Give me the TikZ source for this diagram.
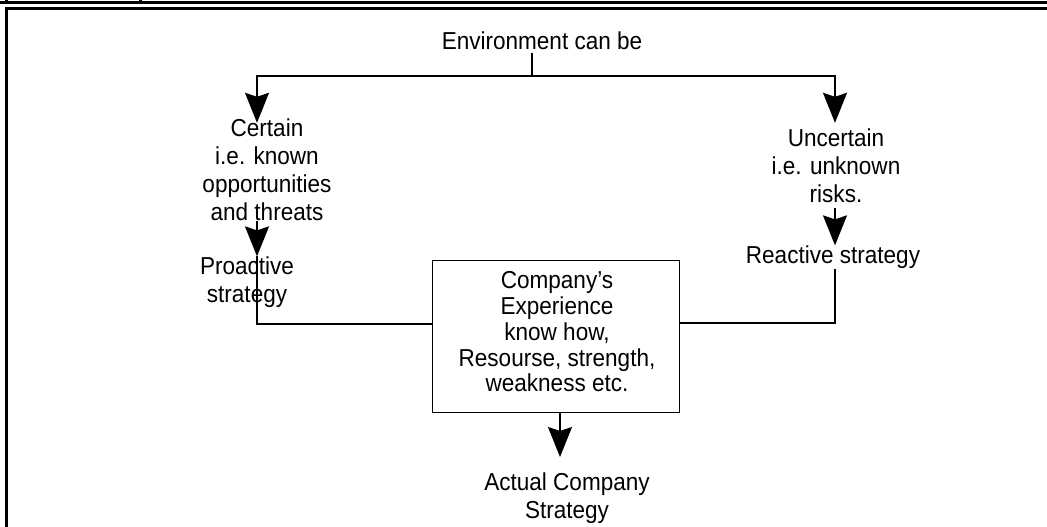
\documentclass[tikz,border=0pt]{standalone}
\usepackage{fontspec}
\setmainfont{Liberation Sans}[FakeStretch=0.92]
\usetikzlibrary{arrows.meta}
\begin{document}
\begin{tikzpicture}[x=1pt,y=-1pt,
  lbl/.style={font=\fontsize{24.5}{28}\selectfont, align=center, inner sep=0pt},
  boxlbl/.style={font=\fontsize{24.5}{25.75}\selectfont, align=center, inner sep=0pt},
  conn/.style={line width=1.6pt},
  arr/.style={conn, -{Stealth[length=30pt,width=24pt,inset=4pt]}},
  frame/.style={line width=3pt}]
\useasboundingbox (0,0) rectangle (1047,527);
% frame
\draw[frame] (0,3) -- (1047,3);
\draw[frame] (140,0) -- (140,3);
\draw[frame] (6,0) -- (6,4);
\draw[frame] (6,8.5) -- (1047,8.5);
\draw[frame] (6,7) -- (6,527);
% nodes
\node[lbl] (env) at (542,41) {Environment can be};
\node[lbl] (cert) at (267,170) {Certain\\i.e. known\\opportunities\\and threats};
\node[lbl] (unc) at (836,166) {Uncertain\\i.e. unknown\\risks.};
\node[lbl] (pro) at (247,282) {Proactive\\strategy};
\node[lbl] (rea) at (833,257) {Reactive strategy};
\node[draw, line width=1pt, minimum width=247pt, minimum height=152pt, inner sep=0pt] (box) at (555.5,336) {};
\node[boxlbl] (boxtxt) at (557,332) {Company’s\\Experience\\know how,\\Resourse, strength,\\weakness etc.};
\node[lbl] (act) at (567,498) {Actual Company\\Strategy};
% coordinates
\coordinate (split) at (532,76);
\coordinate (lt) at (257,76);
\coordinate (rt) at (835,76);
\coordinate (jl) at (257,324);
\coordinate (jr) at (835,323);
\coordinate (bt) at (560,457);
% connectors
\draw[conn] ([yshift=-3pt]env.south -| split) -- (split);
\draw[arr, shorten >=-4pt] (split) -- (lt) -- (cert.north -| lt);
\draw[arr, shorten >=6pt] (split) -- (rt) -- (unc.north -| rt);
\draw[arr] (cert.south -| lt) -- (pro.north -| lt);
\draw[conn] (pro.north -| lt) -- (jl) -- (jl -| box.west);
\draw[arr, shorten <=5pt] (unc.south -| rt) -- (rea.north -| rt);
\draw[conn] (rea.south -| rt) -- (jr) -- (jr -| box.east);
\draw[arr] (box.south -| bt) -- (bt);
\end{tikzpicture}
\end{document}
